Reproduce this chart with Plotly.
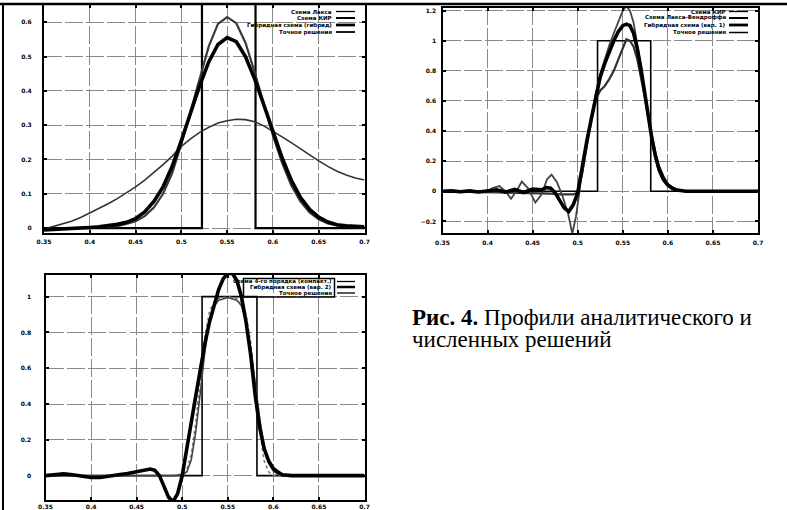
import plotly.graph_objects as go

W, H = 787, 510

# ---------------- data ----------------
x_ticks = [0.35, 0.4, 0.45, 0.5, 0.55, 0.6, 0.65, 0.7]

# Panel 1
p1_x = [0.35, 0.36, 0.37, 0.38, 0.39, 0.40, 0.41, 0.42, 0.43, 0.44, 0.45, 0.46,
        0.47, 0.48, 0.49, 0.50, 0.51, 0.52, 0.53, 0.54, 0.55, 0.56, 0.57, 0.58,
        0.59, 0.60, 0.61, 0.62, 0.63, 0.64, 0.65, 0.66, 0.67, 0.68, 0.69, 0.70]
p1_lax = [-0.003, 0.004, 0.011, 0.02, 0.031, 0.044, 0.057, 0.071, 0.086, 0.103, 0.12, 0.14,
          0.162, 0.185, 0.21, 0.238, 0.26, 0.279, 0.294, 0.306, 0.313, 0.317, 0.316, 0.31,
          0.298, 0.283, 0.266, 0.249, 0.231, 0.213, 0.196, 0.18, 0.166, 0.155, 0.146, 0.14]
p1_kir = [-0.004, -0.003, -0.002, -0.001, 0.0, 0.001, 0.002, 0.003, 0.006, 0.012, 0.02, 0.035,
          0.06, 0.10, 0.16, 0.245, 0.34, 0.44, 0.53, 0.595, 0.615, 0.597, 0.54, 0.455,
          0.36, 0.27, 0.19, 0.125, 0.078, 0.046, 0.026, 0.014, 0.008, 0.005, 0.003, 0.002]
p1_hyb = [-0.005, -0.004, -0.003, -0.002, 0.0, 0.002, 0.004, 0.007, 0.011, 0.017, 0.028, 0.047,
          0.078, 0.12, 0.18, 0.255, 0.335, 0.415, 0.485, 0.535, 0.555, 0.543, 0.50, 0.435,
          0.36, 0.28, 0.205, 0.14, 0.09, 0.055, 0.032, 0.018, 0.01, 0.007, 0.005, 0.004]
p1_exact_x = [0.35, 0.5225, 0.5225, 0.581, 0.581, 0.70]
p1_exact_y = [0, 0, 1, 1, 0, 0]

# Panel 2
p2_osc_x = [0.35, 0.36, 0.37, 0.38, 0.39, 0.40, 0.405, 0.413, 0.42, 0.426, 0.432, 0.438,
            0.445, 0.453, 0.46, 0.466, 0.471, 0.477, 0.483, 0.489, 0.494, 0.498, 0.502, 0.506,
            0.51, 0.515, 0.52, 0.525, 0.53, 0.535, 0.54, 0.545, 0.55, 0.554, 0.558, 0.562,
            0.566, 0.57, 0.574, 0.578, 0.582, 0.586, 0.59, 0.595, 0.60, 0.605, 0.61, 0.62, 0.70]
p2_osc_y = [0.0, 0.005, -0.004, 0.006, -0.006, 0.0, 0.02, 0.035, 0.0, -0.05, 0.0, 0.065,
            0.02, -0.075, -0.02, 0.08, 0.11, 0.06, -0.03, -0.14, -0.28, -0.17, 0.0, 0.2,
            0.34, 0.5, 0.65, 0.78, 0.88, 0.97, 1.05, 1.13, 1.2, 1.23, 1.2, 1.12,
            0.99, 0.84, 0.67, 0.5, 0.34, 0.22, 0.13, 0.07, 0.035, 0.015, 0.006, 0.0, 0.0]
p2_hyb_x = [0.35, 0.36, 0.37, 0.38, 0.39, 0.40, 0.41, 0.42, 0.43, 0.44, 0.45, 0.46,
            0.465, 0.47, 0.475, 0.48, 0.485, 0.49, 0.495, 0.50, 0.505, 0.51, 0.515, 0.52,
            0.525, 0.53, 0.535, 0.54, 0.545, 0.55, 0.554, 0.558, 0.562, 0.566, 0.57, 0.574,
            0.578, 0.582, 0.586, 0.59, 0.595, 0.60, 0.605, 0.61, 0.62, 0.70]
p2_hyb_y = [0.0, 0.003, -0.003, 0.003, -0.005, 0.0, 0.01, -0.005, 0.012, -0.008, 0.015, 0.01,
            0.025, 0.02, -0.01, -0.06, -0.11, -0.135, -0.09, -0.01, 0.17, 0.33, 0.48, 0.63,
            0.76, 0.85, 0.93, 1.0, 1.06, 1.1, 1.11, 1.1, 1.05, 0.95, 0.82, 0.66,
            0.5, 0.36, 0.24, 0.15, 0.08, 0.04, 0.02, 0.008, 0.0, 0.0]
p2_sh_x = [0.35, 0.40, 0.45, 0.47, 0.48, 0.49, 0.495, 0.50, 0.505, 0.51, 0.515, 0.52,
           0.525, 0.53, 0.535, 0.54, 0.545, 0.55, 0.554, 0.558, 0.562, 0.566, 0.57, 0.574,
           0.578, 0.582, 0.586, 0.59, 0.595, 0.60, 0.605, 0.61, 0.62, 0.70]
p2_sh_y = [0.0, -0.005, -0.01, -0.015, -0.02, -0.02, -0.02, -0.01, 0.12, 0.3, 0.47, 0.61,
           0.67, 0.7, 0.745, 0.8, 0.88, 0.96, 1.01, 1.0, 0.96, 0.88, 0.77, 0.64,
           0.5, 0.37, 0.26, 0.17, 0.1, 0.05, 0.025, 0.01, 0.0, 0.0]
p2_exact_x = [0.35, 0.522, 0.522, 0.581, 0.581, 0.70]
p2_exact_y = [0, 0, 1, 1, 0, 0]

# Panel 3
p3_hyb_x = [0.35, 0.36, 0.37, 0.38, 0.39, 0.40, 0.41, 0.42, 0.43, 0.44, 0.45, 0.46,
            0.465, 0.47, 0.475, 0.48, 0.485, 0.49, 0.495, 0.50, 0.505, 0.51, 0.515, 0.52,
            0.525, 0.53, 0.535, 0.54, 0.545, 0.55, 0.555, 0.56, 0.565, 0.57, 0.575, 0.58,
            0.585, 0.59, 0.595, 0.60, 0.605, 0.61, 0.62, 0.70]
p3_hyb_y = [0.0, 0.005, 0.01, 0.005, -0.005, -0.01, -0.01, -0.005, 0.005, 0.012, 0.02, 0.032,
            0.037, 0.03, 0.0, -0.06, -0.12, -0.145, -0.1, 0.0, 0.14, 0.3, 0.45, 0.6,
            0.74, 0.86, 0.96, 1.04, 1.1, 1.13, 1.13, 1.09, 1.0, 0.86, 0.68, 0.45,
            0.27, 0.15, 0.08, 0.04, 0.02, 0.005, 0.0, 0.0]
p3_a_x = [0.35, 0.49, 0.50, 0.505, 0.51, 0.515, 0.52, 0.525, 0.53, 0.535, 0.54,
          0.55, 0.56, 0.565, 0.57, 0.575, 0.58, 0.585, 0.59, 0.595, 0.60, 0.70]
p3_a_y = [0.0, 0.0, 0.01, 0.03, 0.12, 0.3, 0.55, 0.78, 0.92, 0.97, 0.99,
          1.0, 0.99, 0.97, 0.9, 0.75, 0.5, 0.25, 0.08, 0.02, 0.0, 0.0]
p3_b_x = [0.35, 0.49, 0.50, 0.505, 0.51, 0.515, 0.52, 0.525, 0.53, 0.535, 0.54, 0.55,
          0.56, 0.565, 0.57, 0.575, 0.58, 0.585, 0.59, 0.595, 0.60, 0.605, 0.61, 0.70]
p3_b_y = [0.0, 0.0, 0.005, 0.02, 0.09, 0.25, 0.47, 0.7, 0.87, 0.95, 0.98, 0.995,
          0.98, 0.95, 0.86, 0.72, 0.52, 0.32, 0.16, 0.07, 0.025, 0.008, 0.0, 0.0]
p3_exact_x = [0.35, 0.5218, 0.5218, 0.582, 0.582, 0.70]
p3_exact_y = [0, 0, 1, 1, 0, 0]

legend1 = ["Схема Лакса", "Схема КИР", "Гибридная схема (гибрид)", "Точное решение"]
legend2 = ["Схема КИР", "Схема Лакса-Вендроффа", "Гибридная схема (вар. 1)", "Точное решение"]
legend3 = ["Схема 4-го порядка (компакт.)", "Гибридная схема (вар. 2)", "Точное решение"]

caption1 = "<b>Рис. 4.</b> Профили аналитического и"
caption2 = "численных решений"

# ---------------- figure ----------------
fig = go.Figure()

def line(x, y, ax, width, color, dash="solid"):
    xa, ya = ax
    fig.add_trace(go.Scatter(x=x, y=y, mode="lines", xaxis=xa, yaxis=ya,
                             line=dict(color=color, width=width, dash=dash),
                             showlegend=False, hoverinfo="skip"))

line(p1_exact_x, p1_exact_y, ("x", "y"), 2.2, "#000")
line(p1_x, p1_lax, ("x", "y"), 1.6, "#333")
line(p1_x, p1_kir, ("x", "y"), 2.2, "#3a3a3a")
line(p1_x, p1_hyb, ("x", "y"), 3.6, "#000")

line(p2_exact_x, p2_exact_y, ("x2", "y2"), 1.6, "#000")
line(p2_sh_x, p2_sh_y, ("x2", "y2"), 2.2, "#333")
line(p2_osc_x, p2_osc_y, ("x2", "y2"), 1.8, "#444")
line(p2_hyb_x, p2_hyb_y, ("x2", "y2"), 3.6, "#000")

line(p3_exact_x, p3_exact_y, ("x3", "y3"), 1.6, "#000")
line(p3_a_x, p3_a_y, ("x3", "y3"), 1.5, "#777", "dot")
line(p3_b_x, p3_b_y, ("x3", "y3"), 1.6, "#444")
line(p3_hyb_x, p3_hyb_y, ("x3", "y3"), 3.6, "#000")

def px(v):
    return v / W

def py(v):
    return 1 - v / H

tickfont = dict(family="DejaVu Sans", size=6, color="black", weight="bold")

def axis(domain, rng, dtick, tick0, standoff, anchor):
    return dict(domain=domain, range=rng, dtick=dtick, tick0=tick0, anchor=anchor,
                showline=True, linecolor="black", linewidth=2, mirror="ticks",
                ticks="inside", ticklen=3, tickwidth=1.5, tickcolor="black",
                showgrid=True, gridcolor="#8a8a8a", gridwidth=1, griddash="18px,3px",
                zeroline=False, tickfont=tickfont, ticklabelstandoff=standoff,
                automargin=False, fixedrange=True)

fig.update_layout(
    width=W, height=H, autosize=False, margin=dict(l=0, r=0, t=0, b=0, pad=0),
    paper_bgcolor="white", plot_bgcolor="white", showlegend=False,
    xaxis=axis([px(44), px(364.5)], [0.35, 0.7], 0.05, 0.35, 1, "y"),
    yaxis=axis([py(233.3), py(5)], [-0.015, 0.65], 0.1, 0, 9, "x"),
    xaxis2=axis([px(442.5), px(758)], [0.35, 0.7], 0.05, 0.35, 2, "y2"),
    yaxis2=axis([py(233.3), py(7.5)], [-0.279, 1.221], 0.2, 0, 3, "x2"),
    xaxis3=axis([px(45.5), px(364.5)], [0.35, 0.7], 0.05, 0.35, 0, "y3"),
    yaxis3=axis([py(500), py(275)], [-0.136, 1.121], 0.2, 0, 11, "x3"),
)

shapes = []
annotations = []
legfont = dict(family="DejaVu Sans", size=5.5, color="black", weight="bold")

def legend(labels, x_text_right, x0, x1, rows, widths):
    for lab, yy, w in zip(labels, rows, widths):
        annotations.append(dict(text=lab, x=px(x_text_right), y=py(yy), xref="paper", yref="paper",
                                xanchor="right", yanchor="middle", showarrow=False, font=legfont,
                                borderpad=0))
        shapes.append(dict(type="line", xref="paper", yref="paper", x0=px(x0), x1=px(x1),
                           y0=py(yy), y1=py(yy), line=dict(color="black", width=w)))

legend(legend1, 333, 336, 355, [11.5, 18, 25, 32], [1.3, 2, 2.8, 1.8])
legend(legend2, 727, 729, 748, [11.5, 18, 25, 32.5], [1.3, 2, 2.8, 1.5])
legend(legend3, 333, 337, 355, [281.5, 287, 293], [1.3, 2.5, 1.3])
shapes.append(dict(type="rect", xref="paper", yref="paper", x0=px(243.5), x1=px(334.5),
                   y0=py(297), y1=py(278.5), line=dict(color="black", width=1.5)))

# page frame lines
shapes.append(dict(type="line", xref="paper", yref="paper", x0=0, x1=1, y0=py(4), y1=py(4),
                   line=dict(color="black", width=2.5)))
shapes.append(dict(type="line", xref="paper", yref="paper", x0=px(3), x1=px(3), y0=py(4), y1=0,
                   line=dict(color="black", width=2)))

capfont = dict(family="Liberation Serif", size=23, color="black")
annotations.append(dict(text=caption1, x=px(410), y=py(317.5), xref="paper", yref="paper",
                        xanchor="left", yanchor="middle", showarrow=False, font=capfont))
annotations.append(dict(text=caption2, x=px(410), y=py(339), xref="paper", yref="paper",
                        xanchor="left", yanchor="middle", showarrow=False, font=capfont))

fig.update_layout(shapes=shapes, annotations=annotations)
fig.write_html(
    "out.html",
    config={"responsive": False, "displayModeBar": False},
    default_width="787px", default_height="510px",
    post_script="document.body.style.margin='0';document.body.style.overflow='hidden';",
)
